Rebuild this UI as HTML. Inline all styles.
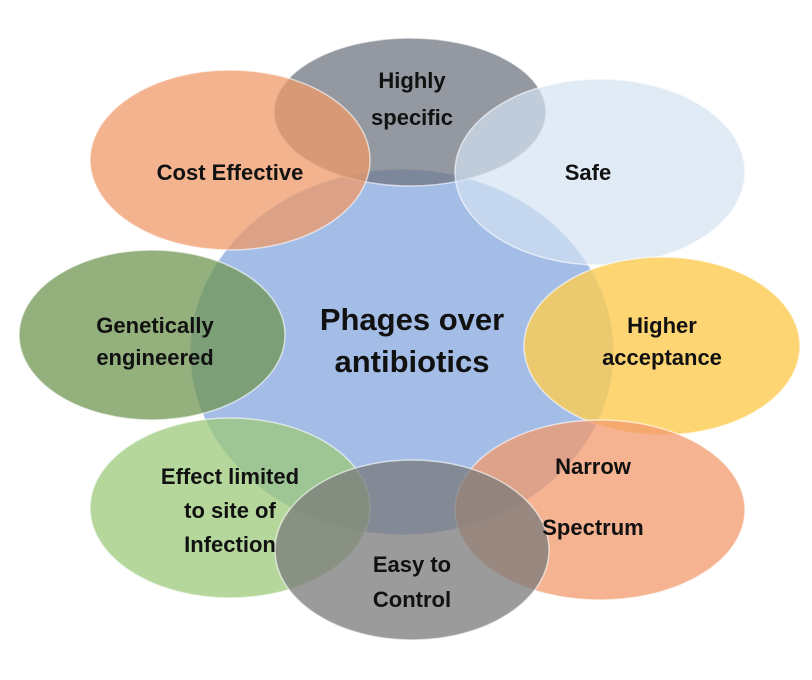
<!DOCTYPE html>
<html><head><style>
body{margin:0;background:#fff;}
svg{display:block}
text{font-family:"Liberation Sans",sans-serif;font-weight:bold;fill:#111;text-anchor:middle}
ellipse{stroke:#fff;stroke-width:1.5;stroke-opacity:.6}
</style></head><body>
<svg width="812" height="680" viewBox="0 0 812 680">
<ellipse cx="402" cy="352" rx="212" ry="183" fill="#a4bde6"/>
<ellipse cx="410" cy="112" rx="136" ry="74" fill="#6f7582" fill-opacity=".75"/>
<ellipse cx="600" cy="172" rx="145" ry="93" fill="#d3e2f2" fill-opacity=".7"/>
<ellipse cx="230" cy="160" rx="140" ry="90" fill="#ee9a68" fill-opacity=".75"/>
<ellipse cx="152" cy="335" rx="133" ry="85" fill="#6f9652" fill-opacity=".75"/>
<ellipse cx="662" cy="346" rx="138" ry="89" fill="#fdcc50" fill-opacity=".8"/>
<ellipse cx="230" cy="508" rx="140" ry="90" fill="#9cc97a" fill-opacity=".75"/>
<ellipse cx="600" cy="510" rx="145" ry="90" fill="#f19a6c" fill-opacity=".75"/>
<ellipse cx="412" cy="550" rx="137" ry="90" fill="#7a7a7a" fill-opacity=".75"/>
<text x="412" y="88" font-size="22">Highly</text>
<text x="412" y="125" font-size="22">specific</text>
<text x="588" y="180" font-size="22">Safe</text>
<text x="230" y="180" font-size="22">Cost Effective</text>
<text x="155" y="333" font-size="22">Genetically</text>
<text x="155" y="365" font-size="22">engineered</text>
<text x="412" y="330" font-size="31">Phages over</text>
<text x="412" y="372" font-size="31">antibiotics</text>
<text x="662" y="333" font-size="22">Higher</text>
<text x="662" y="365" font-size="22">acceptance</text>
<text x="230" y="484" font-size="22">Effect limited</text>
<text x="230" y="518" font-size="22">to site of</text>
<text x="230" y="552" font-size="22">Infection</text>
<text x="593" y="474" font-size="22">Narrow</text>
<text x="593" y="535" font-size="22">Spectrum</text>
<text x="412" y="572" font-size="22">Easy to</text>
<text x="412" y="607" font-size="22">Control</text>
</svg>
</body></html>
